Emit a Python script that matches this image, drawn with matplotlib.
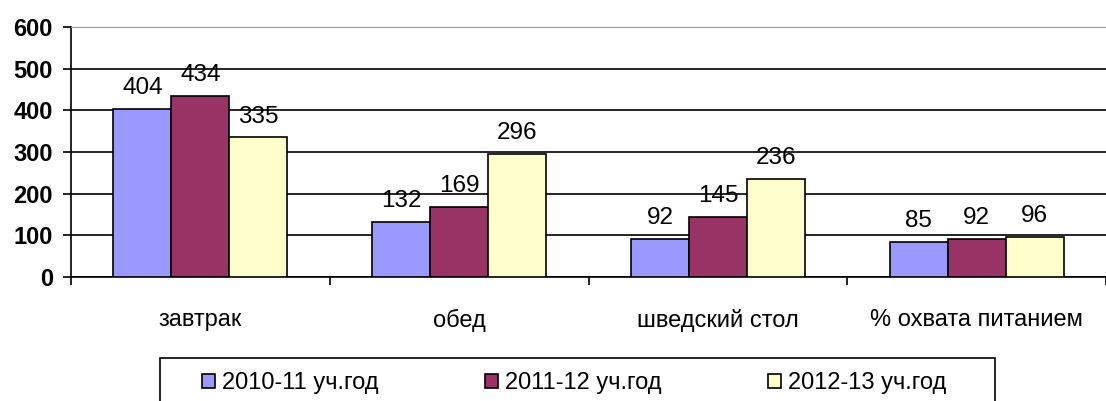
import matplotlib.pyplot as plt
from matplotlib.patches import Rectangle
import numpy as np

categories = ["завтрак", "обед", "шведский стол", "% охвата питанием"]
series_names = ["2010-11 уч.год", "2011-12 уч.год", "2012-13 уч.год"]
v2010 = [404, 132, 92, 85]
v2011 = [434, 169, 145, 92]
v2012 = [335, 296, 236, 96]
colors = ["#9999FF", "#993366", "#FFFFCC"]

plt.rcParams["font.family"] = ["Liberation Sans", "DejaVu Sans"]

fig = plt.figure(figsize=(11.06, 4.01), dpi=100)
ax = fig.add_axes([71 / 1106, 1 - 277 / 401, 1 - 71 / 1106, 250 / 401])

x = np.arange(len(categories))
w = 0.224
for i, (vals, col, name) in enumerate(zip([v2010, v2011, v2012], colors, series_names)):
    bars = ax.bar(x + (i - 1) * w, vals, w, color=col, edgecolor="black",
                  linewidth=1.2, label=name, zorder=3)
    for b, v in zip(bars, vals):
        ax.annotate(str(v), (b.get_x() + b.get_width() / 2, v),
                    xytext=(0, 7), textcoords="offset points",
                    ha="center", va="bottom", fontsize=17.5)

ax.set_xlim(-0.5, len(categories) - 0.5)
ax.set_ylim(0, 600)
ax.set_yticks(range(0, 601, 100))
ax.yaxis.grid(True, color="black", linewidth=1.2, zorder=0)
ax.set_axisbelow(True)
for lab in ax.get_yticklabels():
    lab.set_fontweight("bold")
ax.tick_params(axis="y", labelsize=17, length=6, width=1.2, pad=7)

ax.set_xticks(x)
ax.set_xticklabels(categories, fontsize=17)
ax.tick_params(axis="x", length=0, pad=23)
ax.set_xticks(np.arange(-0.5, len(categories)), minor=True)
ax.tick_params(axis="x", which="minor", length=6, width=1.2)

ax.spines["right"].set_visible(False)
ax.spines["top"].set_color("#999999")
ax.spines["left"].set_linewidth(1.2)
ax.spines["bottom"].set_linewidth(1.2)

# legend box drawn separately
fig.patches.append(Rectangle((160 / 1106, -0.05), 835 / 1106, 0.05 + 43 / 401,
                             transform=fig.transFigure, facecolor="white",
                             edgecolor="black", linewidth=1.2))
fig.legend(loc="center", bbox_to_anchor=(0.519, 1 - 383 / 401),
           ncol=3, fontsize=17, frameon=False,
           handlelength=0.55, handleheight=0.55,
           handletextpad=0.3, columnspacing=4.5)

fig.savefig("out.png", dpi=100)
